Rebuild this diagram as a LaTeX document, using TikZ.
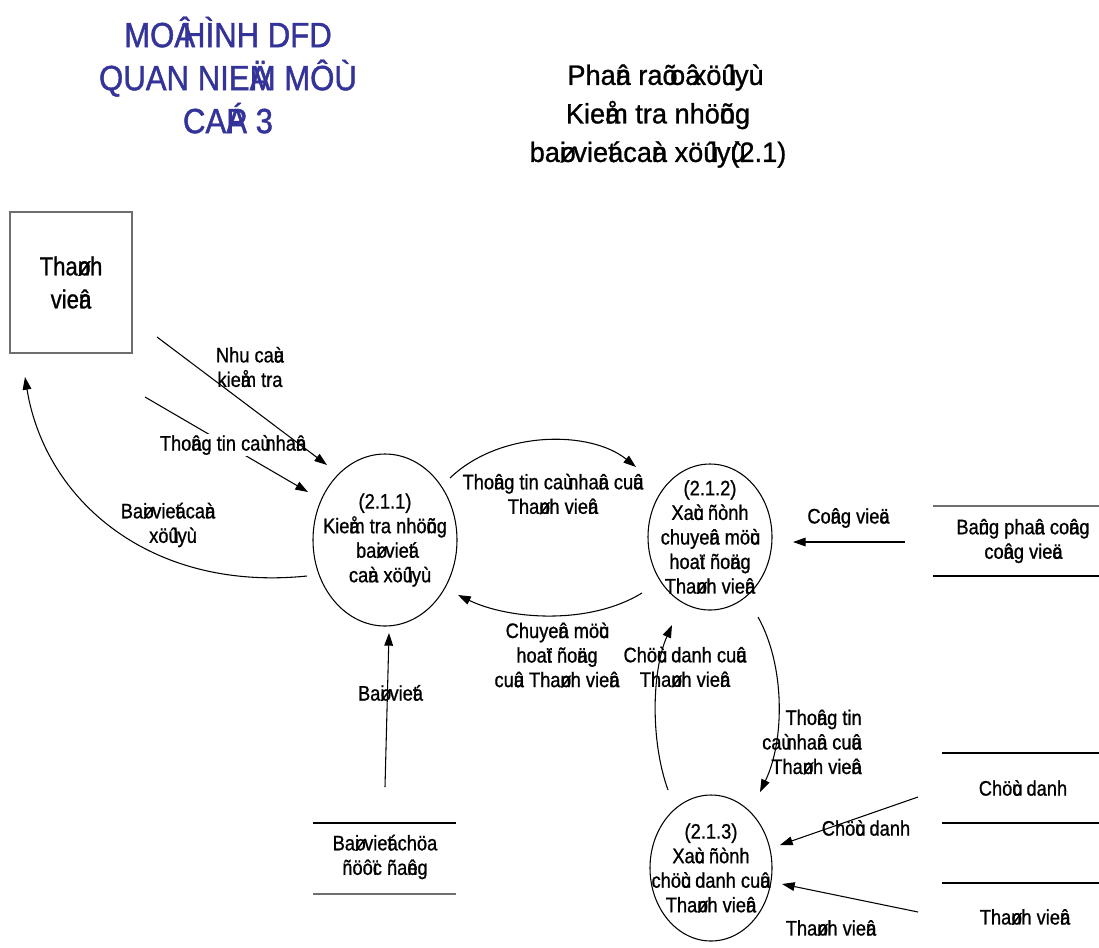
\documentclass[tikz,border=0pt]{standalone}
\usepackage{fontspec}
\setmainfont{Liberation Sans}[FakeStretch=0.87,FakeBold=0.9]
\newfontfamily\headfont{Liberation Sans}[FakeStretch=0.97,FakeBold=0.9]
\newfontfamily\bluefont{Liberation Sans}[FakeStretch=0.89,FakeBold=1.2]
\newfontfamily\entfont{Liberation Sans}[FakeStretch=0.85,FakeBold=0.9]
\usetikzlibrary{shapes.geometric,arrows.meta}
% VNI tone marks: drawn over the following letter, taking no width
\newcommand{\vm}[1]{\rlap{#1}}
\definecolor{titleblue}{RGB}{51,51,153}
\definecolor{edgegray}{RGB}{110,110,110}

\begin{document}
\begin{tikzpicture}[x=0.75pt,y=-0.75pt,
  body/.style={font=\fontsize{15.75pt}{18.4pt}\selectfont, align=center, inner sep=0pt},
  proc/.style={draw, ellipse, line width=0.8pt, inner sep=0pt},
  flow/.style={line width=0.8pt, -{Triangle[length=9.5pt,width=6.5pt]}},
  storeline/.style={line width=0.9pt},
]
\useasboundingbox (0,0) rectangle (1099,947);

% ---- titles
\node[font=\bluefont\fontsize{26.25pt}{32.25pt}\selectfont, text=titleblue,
      align=center, inner sep=0pt] (title) at (228,75)
  {MO\vm{Â} HÌNH DFD\\QUAN NIE\vm{Ä}M MÔÙ\\CA\vm{Á}P 3};
\node[font=\headfont\fontsize{21pt}{28.9pt}\selectfont, align=center,
      inner sep=0pt] (subtitle) at (658,116)
  {Pha\vm{â}n ra\vm{õ} o\vm{â} xö\vm{û} ly\vm{ù}\\Kie\vm{å}m tra nhö\vm{õ}ng\\ba\vm{ø}i vie\vm{á}t ca\vm{à}n xö\vm{û} ly\vm{ù}(2.1)};

% ---- external entity
\node[draw=edgegray, line width=1pt, minimum width=91.5pt, minimum height=105.75pt,
      inner sep=0pt, align=center, font=\entfont\fontsize{19.5pt}{24.75pt}\selectfont]
  (ent) at (71,282.5) {Tha\vm{ø}nh\\vie\vm{â}n};

% ---- processes
\node[proc, minimum width=108pt, minimum height=129pt] (p1) at (385,540) {};
\node[body] (p1t) at (p1) {(2.1.1)\\Kie\vm{å}m tra nhö\vm{õ}ng\\ba\vm{ø}i vie\vm{á}t\\ca\vm{à}n xö\vm{û} ly\vm{ù}};
\node[proc, minimum width=93pt, minimum height=109.5pt] (p2) at (710,537) {};
\node[body] (p2t) at (p2) {(2.1.2)\\Xa\vm{ù}c ñònh\\chuye\vm{â}n mö\vm{ù}c\\hoa\vm{ï}t ño\vm{ä}ng\\Tha\vm{ø}nh vie\vm{â}n};
\node[proc, minimum width=91.5pt, minimum height=109.5pt] (p3) at (711,868) {};
\node[body] (p3t) at (p3) {(2.1.3)\\Xa\vm{ù}c ñònh\\chö\vm{ù}c danh cu\vm{û}a\\Tha\vm{ø}nh vie\vm{â}n};

% ---- data stores
\draw[storeline, draw=edgegray] (933,506) -- (1099,506);
\draw[storeline] (933,576) -- (1099,576);
\node[body] (s1) at (1023,541) {Ba\vm{û}ng pha\vm{â}n co\vm{â}ng\\co\vm{â}ng vie\vm{ä}c};
\draw[storeline] (942,753) -- (1099,753);
\draw[storeline] (942,823) -- (1099,823);
\node[body] (s2) at (1023,788) {Chö\vm{ù}c danh};
\draw[storeline] (942,883) -- (1099,883);
\node[body] (s3) at (1025,917) {Tha\vm{ø}nh vie\vm{â}n};
\draw[storeline] (313,823) -- (456,823);
\draw[storeline, draw=edgegray] (313,894) -- (456,894);
\node[body] (s4) at (385,857) {Ba\vm{ø}i vie\vm{á}t chöa\\ñöô\vm{ï}c ña\vm{ê}ng};

% ---- connector end points
\coordinate (a0) at (157,337);  \coordinate (a1) at (327,465);
\coordinate (b0) at (145,397);  \coordinate (b1) at (308,492);
\coordinate (c0) at (307,576);  \coordinate (c1) at (25,377);
\coordinate (d0) at (450,478);  \coordinate (d1) at (636,467);
\coordinate (e0) at (642,593);  \coordinate (e1) at (458,595);
\coordinate (f0) at (668,790);  \coordinate (f1) at (672,625);
\coordinate (g0) at (758,617);  \coordinate (g1) at (760,792);
\coordinate (h0) at (918,797);  \coordinate (h1) at (780,845);
\coordinate (i0) at (918,912);  \coordinate (i1) at (782,884);
\coordinate (j0) at (905,542);  \coordinate (j1) at (793,542);
\coordinate (k0) at (385,787);  \coordinate (k1) at (389,633);

% ---- flows
\draw[flow] (b0) -- (b1);
\node[body, fill=white, inner sep=1pt] (lb) at (233,445) {Tho\vm{â}ng tin ca\vm{ù} nha\vm{â}n};
\draw[flow] (a0) -- (a1);
\node[body] (la) at (250,367) {Nhu ca\vm{à}u\\kie\vm{å}m tra};

\draw[flow] (c0) .. controls (150,592) and (45,500) .. (c1);
\node[body] (lc) at (168,525) {Ba\vm{ø}i vie\vm{á}t ca\vm{à}n\\xö\vm{û} ly\vm{ù}};

\draw[flow] (d0) .. controls (500,430) and (590,430) .. (d1);
\node[body] (ld) at (553,494) {Tho\vm{â}ng tin ca\vm{ù} nha\vm{â}n cu\vm{û}a\\Tha\vm{ø}nh vie\vm{â}n};

\draw[flow] (e0) .. controls (590,625) and (510,620) .. (e1);
\node[body] (le) at (557,655) {Chuye\vm{â}n mö\vm{ù}c\\hoa\vm{ï}t ño\vm{ä}ng\\cu\vm{û}a Tha\vm{ø}nh vie\vm{â}n};

\draw[flow] (f0) .. controls (650,740) and (652,670) .. (f1);
\node[body] (lf) at (685,667) {Chö\vm{ù}c danh cu\vm{û}a\\Tha\vm{ø}nh vie\vm{â}n};

\draw[flow] (g0) .. controls (785,665) and (785,740) .. (g1);
\node[body, align=right, anchor=east] (lg) at (862,742) {Tho\vm{â}ng tin\\ca\vm{ù} nha\vm{â}n cu\vm{û}a\\Tha\vm{ø}nh vie\vm{â}n};

\draw[flow] (h0) -- (h1);
\node[body] (lh) at (866,828) {Chö\vm{ù}c danh};

\draw[flow] (i0) -- (i1);
\node[body] (li) at (831,928) {Tha\vm{ø}nh vie\vm{â}n};

\draw[flow] (j0) -- (j1);
\node[body] (lj) at (848,518) {Co\vm{â}ng vie\vm{ä}c};

\draw[flow] (k0) -- (k1);
\node[body] (lk) at (388,693) {Ba\vm{ø}i vie\vm{á}t};
\end{tikzpicture}
\end{document}
